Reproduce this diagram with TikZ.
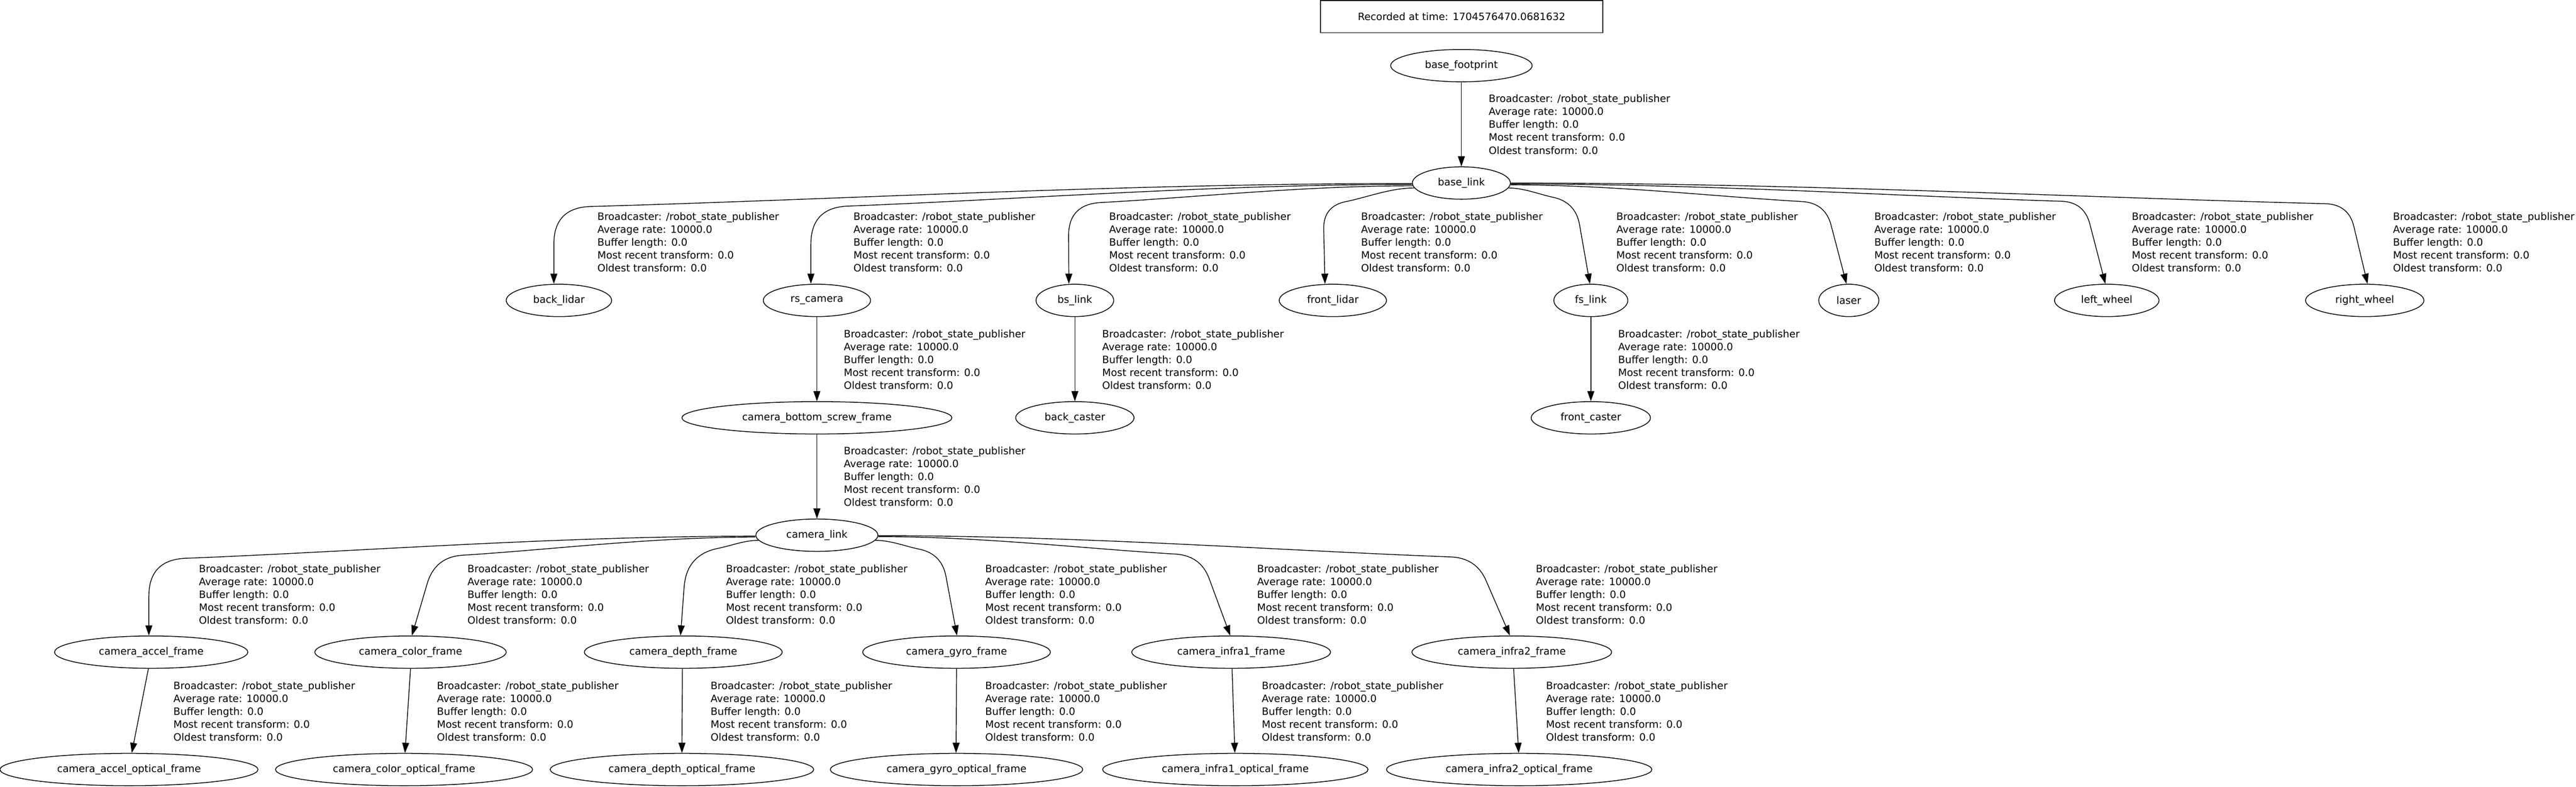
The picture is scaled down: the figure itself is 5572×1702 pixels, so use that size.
\documentclass[tikz,border=0pt]{standalone}
\usepackage{fontspec}
\setmainfont{DejaVu Sans}
\usetikzlibrary{arrows.meta,calc,shapes.geometric}
\newcommand\tffont{\fontsize{21.9pt}{28pt}\selectfont}
\tikzset{
  tfnode/.style={draw, ellipse, line width=1.7pt, inner sep=0pt, minimum height=70pt, font=\tffont},
  tfedge/.style={draw, line width=1.6pt, -{Triangle[length=22pt,width=15pt]}},
  lbl/.style={anchor=north west, align=left, inner sep=0pt, font=\tffont},
}
\newcommand\tflabel[3]{\node[lbl] (#1) at (#2,#3) {Broadcaster: /robot\_state\_publisher\\Average rate: 10000.0\\Buffer length: 0.0\\Most recent transform: 0.0\\Oldest transform: 0.0};}
% #1 start, #2 apex, #3 fraction apex->start, #4 end, #5 fraction apex->end
\newcommand\fanedge[5]{%
  \coordinate (fS) at (#1);
  \coordinate (fT) at (#4);
  \coordinate (fB) at (#2);
  \coordinate (fA) at ($(fB)!#3!(fS)$);
  \coordinate (fE) at ($(fB)!#5!(fT)$);
  \coordinate (fM) at ($(fS)!0.35!(fA)$);
  \draw[tfedge] (fS) .. controls (fM |- fS) and ($(fA)!0.3!(fS)$) .. (fA)
     .. controls ($(fA)!0.667!(fB)$) and ($(fE)!0.667!(fB)$) .. (fE) -- (fT);
}
\begin{document}
\begin{tikzpicture}[x=1pt,y=-1pt]
\useasboundingbox (0,0) rectangle (5572,1702);
\node[draw, line width=1.7pt, inner sep=0pt, minimum width=611pt, minimum height=70pt, font=\tffont] (rec) at (3161.5,36) {Recorded at time: 1704576470.0681632};

% nodes
\node[tfnode, minimum width=306pt] (bfoot) at (3161,142) {base\_footprint};
\node[tfnode, minimum width=212pt] (blink) at (3161,396) {base\_link};
\node[tfnode, minimum width=228pt] (backlidar) at (1209,650) {back\_lidar};
\node[tfnode, minimum width=232pt] (rscam) at (1767,650) {rs\_camera};
\node[tfnode, minimum width=168pt] (bslink) at (2325,650) {bs\_link};
\node[tfnode, minimum width=232pt] (frontlidar) at (2883,650) {front\_lidar};
\node[tfnode, minimum width=160pt] (fslink) at (3441,650) {fs\_link};
\node[tfnode, minimum width=130pt] (laser) at (3999,650) {laser};
\node[tfnode, minimum width=226pt] (leftwheel) at (4557,650) {left\_wheel};
\node[tfnode, minimum width=256pt] (rightwheel) at (5115,650) {right\_wheel};
\node[tfnode, minimum width=584pt] (cbottom) at (1767,904) {camera\_bottom\_screw\_frame};
\node[tfnode, minimum width=256pt] (backcaster) at (2325,904) {back\_caster};
\node[tfnode, minimum width=258pt] (frontcaster) at (3441,904) {front\_caster};
\node[tfnode, minimum width=264pt] (clink) at (1767,1158) {camera\_link};
\node[tfnode, minimum width=418pt] (accel) at (327,1411) {camera\_accel\_frame};
\node[tfnode, minimum width=414pt] (color) at (888,1411) {camera\_color\_frame};
\node[tfnode, minimum width=428pt] (depth) at (1478,1411) {camera\_depth\_frame};
\node[tfnode, minimum width=406pt] (gyro) at (2069,1411) {camera\_gyro\_frame};
\node[tfnode, minimum width=430pt] (infra1) at (2663,1411) {camera\_infra1\_frame};
\node[tfnode, minimum width=432pt] (infra2) at (3270,1411) {camera\_infra2\_frame};
\node[tfnode, minimum width=558pt] (accelopt) at (279,1665) {camera\_accel\_optical\_frame};
\node[tfnode, minimum width=556pt] (coloropt) at (874,1665) {camera\_color\_optical\_frame};
\node[tfnode, minimum width=570pt] (depthopt) at (1475,1665) {camera\_depth\_optical\_frame};
\node[tfnode, minimum width=546pt] (gyroopt) at (2069,1665) {camera\_gyro\_optical\_frame};
\node[tfnode, minimum width=574pt] (infra1opt) at (2672,1665) {camera\_infra1\_optical\_frame};
\node[tfnode, minimum width=574pt] (infra2opt) at (3286,1665) {camera\_infra2\_optical\_frame};

% straight edges
\draw[tfedge] (bfoot) -- (blink);
\draw[tfedge] (rscam) -- (cbottom);
\draw[tfedge] (cbottom) -- (clink);
\draw[tfedge] (bslink) -- (backcaster);
\draw[tfedge] (fslink) -- (frontcaster);
\draw[tfedge] ($(accel.south)+(-6,0)$) -- ($(accelopt.north)+(6,0)$);
\draw[tfedge] (color.south) -- ($(coloropt.north)+(2,0)$);
\draw[tfedge] ($(depth.south)+(-2,0)$) -- (depthopt.north);
\draw[tfedge] (gyro.south) -- ($(gyroopt.north)+(-1,0)$);
\draw[tfedge] ($(infra1.south)+(2,0)$) -- ($(infra1opt.north)+(-1,0)$);
\draw[tfedge] ($(infra2.south)+(4,0)$) -- ($(infra2opt.north)+(-1,0)$);

% fan edges from base_link
\fanedge{$(blink.west)+(0,1)$}{1198,449}{0.043}{$(backlidar.north)+(-11,0)$}{0.48}
\fanedge{$(blink.west)+(0,3)$}{1754,449}{0.0615}{$(rscam.north)+(-13,0)$}{0.48}
\fanedge{$(blink.west)+(1,6)$}{2311,442}{0.094}{$(bslink.north)+(-13,0)$}{0.40}
\fanedge{blink.186}{2862,446}{0.25}{$(frontlidar.north)+(-17,0)$}{0.30}
\fanedge{blink.354}{3408,437}{0.34}{$(fslink.north)+(-2,0)$}{0.28}
\fanedge{$(blink.east)+(0,4)$}{3948,439}{0.074}{$(laser.north)+(-5,0)$}{0.275}
\fanedge{$(blink.east)+(0,2)$}{4508,437}{0.04}{$(leftwheel.north)+(-3,0)$}{0.27}
\fanedge{blink.east}{5080,442}{0.028}{$(rightwheel.north)+(6,0)$}{0.28}

% fan edges from camera_link
\fanedge{$(clink.west)+(0,2)$}{322,1211}{0.061}{$(accel.north)+(-5,0)$}{0.48}
\fanedge{$(clink.west)+(0,4)$}{941,1205}{0.086}{$(color.north)+(3,0)$}{0.34}
\fanedge{clink.185}{1485,1200}{0.44}{$(depth.north)+(-6,0)$}{0.40}
\fanedge{clink.355}{2037,1198}{0.34}{$(gyro.north)+(1,0)$}{0.28}
\fanedge{$(clink.east)+(0,3)$}{2597,1202}{0.079}{$(infra1.north)+(-2,0)$}{0.29}
\fanedge{$(clink.east)+(0,1)$}{3193,1207}{0.043}{$(infra2.north)+(-4,0)$}{0.29}

% labels
\tflabel{l0}{3220}{204.4}
\tflabel{l1}{1292}{459.4}
\tflabel{l2}{1846}{459.4}
\tflabel{l3}{2399}{459.4}
\tflabel{l4}{2944}{459.4}
\tflabel{l5}{3496}{459.4}
\tflabel{l6}{4054}{459.4}
\tflabel{l7}{4611}{459.4}
\tflabel{l8}{5176}{459.4}
\tflabel{l9}{1825}{713.4}
\tflabel{l10}{2384}{713.4}
\tflabel{l11}{3500}{713.4}
\tflabel{l12}{1825}{966.4}
\tflabel{l13}{430}{1221.4}
\tflabel{l14}{1011}{1221.4}
\tflabel{l15}{1570}{1221.4}
\tflabel{l16}{2131}{1221.4}
\tflabel{l17}{2719}{1221.4}
\tflabel{l18}{3322}{1221.4}
\tflabel{l19}{375}{1474.4}
\tflabel{l20}{945}{1474.4}
\tflabel{l21}{1537}{1474.4}
\tflabel{l22}{2131}{1474.4}
\tflabel{l23}{2729}{1474.4}
\tflabel{l24}{3344}{1474.4}
\end{tikzpicture}
\end{document}
